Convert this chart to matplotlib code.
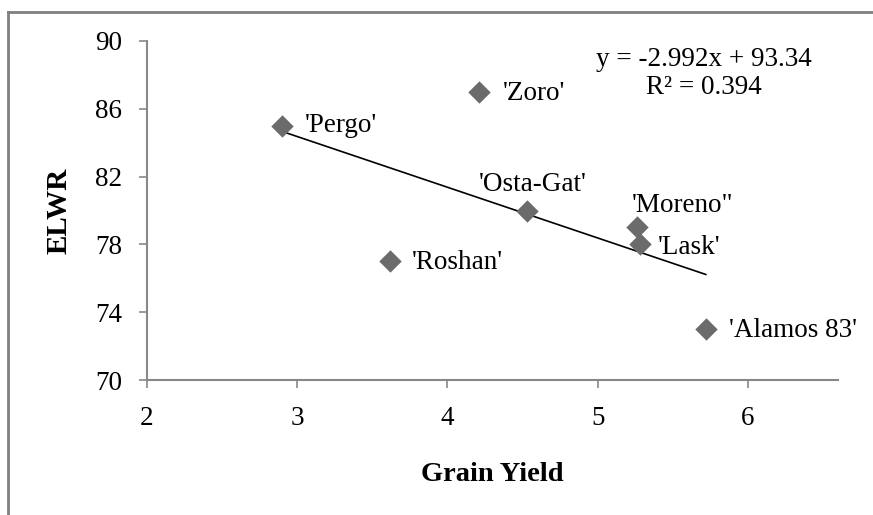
import matplotlib
matplotlib.use("Agg")
import matplotlib.pyplot as plt
from matplotlib.lines import Line2D
import numpy as np

names = ["'Pergo'", "'Zoro'", "'Osta-Gat'", "'Moreno\"", "'Lask'", "'Roshan'", "'Alamos 83'"]
grain_yield = [2.90, 4.21, 4.53, 5.26, 5.28, 3.62, 5.72]
elwr = [85.0, 87.0, 80.0, 79.0, 78.0, 77.0, 73.0]
slope, intercept = -2.992, 93.34
r2 = 0.394
x_ticks = [2, 3, 4, 5, 6]
y_ticks = [70, 74, 78, 82, 86, 90]

# label offsets in pixels (dx, dy, ha)
label_offsets = [(23, 0, "left"), (24, -2, "left"), (6, 26, "center"), (46, 22, "center"),
                 (18, -3, "left"), (22, -1, "left"), (23, -1, "left")]

plt.rcParams['font.family'] = ['Liberation Serif', 'DejaVu Serif']

fig = plt.figure(figsize=(8.73, 5.15), dpi=100)
ax = fig.add_axes([147/873, 1-380/515, (838-147)/873, (380-41)/515])

ax.scatter(grain_yield, elwr, marker='D', s=130, color='#6b6b6b', zorder=3, linewidths=0)
xs = np.array([min(grain_yield), max(grain_yield)])
ax.plot(xs, slope*xs + intercept, color='black', lw=1.2, zorder=2)

for n, x, y, (dx, dy, ha) in zip(names, grain_yield, elwr, label_offsets):
    ax.annotate(n, (x, y), xytext=(dx, dy), textcoords='offset pixels',
                ha=ha, va='center', fontsize=19.5, color='black')

ax.text(0.806, 0.905, f"y = {slope}x + {intercept}\nR\u00b2 = {r2}", transform=ax.transAxes,
        ha='center', va='center', fontsize=19.5, linespacing=1.15)

ax.set_xlim(2, 6.6)
ax.set_ylim(70, 90)
ax.set_xticks(x_ticks)
ax.set_yticks(y_ticks)
for s in ['top', 'right']:
    ax.spines[s].set_visible(False)
for s in ['left', 'bottom']:
    ax.spines[s].set_color('#888888')
    ax.spines[s].set_linewidth(1.5)
ax.tick_params(axis='both', direction='out', length=6, width=1.2, color='#888888',
               labelsize=19.5, pad=12)
ax.tick_params(axis='x', pad=13)
ax.set_xlabel('Grain Yield', fontsize=20.5, fontweight='bold', labelpad=22)
ax.set_ylabel('ELWR', fontsize=21, fontweight='bold', labelpad=16)

# outer frame (left and top edges visible)
fig.add_artist(Line2D([8/873, 8/873], [0, 1-12/515], transform=fig.transFigure, color='#808080', lw=2))
fig.add_artist(Line2D([8/873, 1], [1-12/515, 1-12/515], transform=fig.transFigure, color='#808080', lw=2))

fig.savefig('out.png', dpi=100)
